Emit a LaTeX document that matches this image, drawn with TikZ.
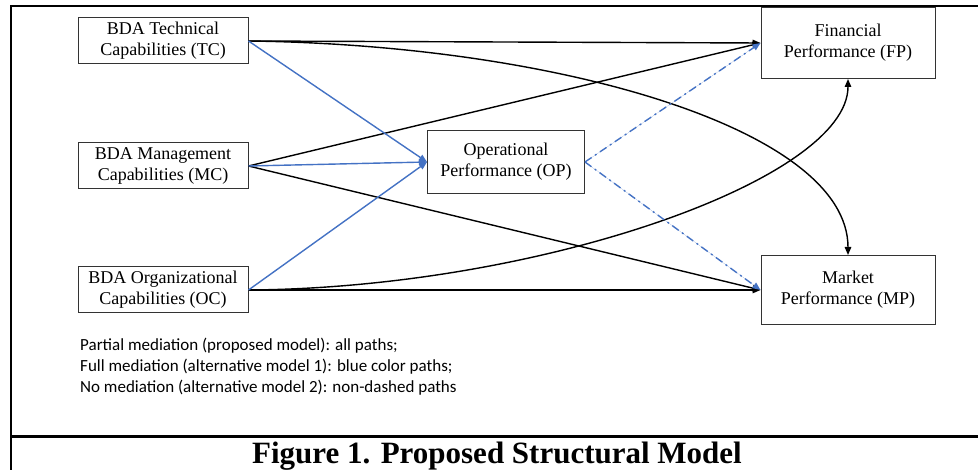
\documentclass[tikz,border=0pt]{standalone}
\usepackage{fontspec}
\setmainfont{Liberation Serif}
\newfontfamily\legendfont{Carlito}
\usetikzlibrary{arrows.meta}
\definecolor{pathblue}{RGB}{68,114,196}
\newcommand{\boxfont}{\fontsize{18}{21}\selectfont}
\tikzset{
  construct/.style={draw=black!80, line width=1pt, align=center, inner sep=0pt, font=\boxfont},
  effect/.style={line width=1.4pt, -{Triangle[length=8pt,width=6.5pt]}},
  mediated/.style={effect, draw=pathblue, fill=pathblue},
  direct/.style={effect, draw=pathblue, fill=pathblue, dash pattern=on 8pt off 4pt on 2pt off 4pt}
}

\begin{document}
\begin{tikzpicture}[x=1pt, y=-1pt]
 \useasboundingbox (0,0) rectangle (978,470);

 \node[construct, minimum width=170pt, minimum height=46pt] (TC) at (163,41) {BDA Technical\\Capabilities (TC)};
 \node[construct, minimum width=170pt, minimum height=46pt] (MC) at (163,166) {BDA Management\\Capabilities (MC)};
 \node[construct, minimum width=170pt, minimum height=46pt] (OC) at (163,290) {BDA Organizational\\Capabilities (OC)};
 \node[construct, minimum width=157pt, minimum height=63pt] (OP) at (506,162) {Operational\\Performance (OP)};
 \node[construct, minimum width=174pt, minimum height=71pt] (FP) at (848,43) {Financial\\Performance (FP)};
 \node[construct, minimum width=174pt, minimum height=69pt] (MP) at (848,290) {Market\\Performance (MP)};

   \draw[effect] (TC.east) -- (FP.west);
   \draw[effect] (TC.east) .. controls +(312,4) and +(0,-125) .. (MP.north);
   \draw[effect] (MC.east) -- (FP.west);
   \draw[effect] (MC.east) -- (MP.west);
   \draw[effect] (OC.east) -- (MP.west);
   \draw[effect] (OC.east) .. controls +(292,-2) and +(0,100) .. (FP.south);
   \draw[mediated] (TC.east) -- (OP.west);
   \draw[mediated] (MC.east) -- (OP.west);
   \draw[mediated] (OC.east) -- (OP.west);
   \draw[direct] (OP.east) -- (FP.west);
   \draw[direct] (OP.east) -- (MP.west);

 \node[anchor=north west, align=left, inner sep=0pt, font=\legendfont\fontsize{17}{21}\selectfont] (legend) at (80,338)
   {Partial mediation (proposed model): all paths;\\
    Full mediation (alternative model 1): blue color paths;\\
    No mediation (alternative model 2): non-dashed paths};

    \draw[line width=2.5pt] (10,6) -- (978,6);
    \draw[line width=1.5pt] (11,6) -- (11,470);
    \draw[line width=3pt] (11,437) -- (978,437);
 \node[font=\fontsize{31}{34}\selectfont\bfseries] (caption) at (497,456) {Figure 1. Proposed Structural Model};

 \end{tikzpicture}
\end{document}
